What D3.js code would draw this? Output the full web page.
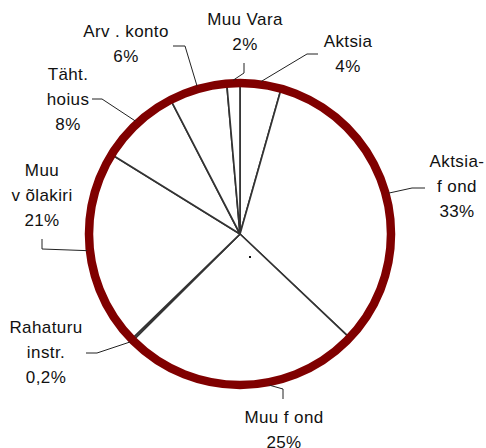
<!DOCTYPE html>
<html><head><meta charset="utf-8">
<script src="https://cdn.jsdelivr.net/npm/d3@7/dist/d3.min.js"></script>
<style>
html,body{margin:0;padding:0;background:#fff;}
text{font-family:"Liberation Sans",Arial,sans-serif;font-size:17px;fill:#111;letter-spacing:0.4px;}
</style></head>
<body><svg id="c" width="486" height="448"></svg>
<script>
// Data (clockwise from 12 o'clock)
const categories = ["Aktsia", "Aktsiafond", "Muu fond", "Rahaturu instr.", "Muu võlakiri", "Täht. hoius", "Arv. konto", "Muu Vara"];
const shares = [4.4, 32.7, 25.5, 0.2, 21.1, 8.6, 6.2, 1.4];
const pctLabels = ["4%", "33%", "25%", "0,2%", "21%", "8%", "6%", "2%"];
const nameLines = [["Aktsia"], ["Aktsia-", "f ond"], ["Muu f ond"], ["Rahaturu", "instr."], ["Muu", "v õlakiri"], ["Täht.", "hoius"], ["Arv . konto"], ["Muu Vara"]];

// Layout for labels (first baseline, center x) and leader elbows
const layout = [
  {x: 348, y: 47, lead: [[307, 54], [318, 54]]},
  {x: 457, y: 167, lead: [[412, 188], [425, 188]]},
  {x: 284, y: 423, lead: [[283, 389], [283, 399]], ang: 169},
  {x: 46, y: 333, lead: [[97, 353], [86, 353]]},
  {x: 42, y: 176, lead: [[42, 249], [42, 239]]},
  {x: 68, y: 80, lead: [[102, 99], [92, 99]]},
  {x: 126, y: 37, lead: [[185, 46], [173, 46]]},
  {x: 245, y: 25, lead: [[244, 73], [244, 63]]}
];

const cx = 240, cy = 234, R = 151;
const svg = d3.select("#c");
const g = svg.append("g").attr("transform", `translate(${cx},${cy})`);

const pie = d3.pie().sort(null).value(d => d).startAngle(0).endAngle(2 * Math.PI);
const arcs = pie(shares);
const arc = d3.arc().innerRadius(0).outerRadius(R);

g.selectAll("path.slice").data(arcs).enter().append("path")
  .attr("class", "slice")
  .attr("d", arc)
  .attr("fill", "#fff")
  .attr("stroke", "#333")
  .attr("stroke-width", 1.7)
  .attr("stroke-linejoin", "round");

g.append("circle").attr("r", R).attr("fill", "none")
  .attr("stroke", "#800000").attr("stroke-width", 8.5);

// small dot
g.append("rect").attr("x", 9).attr("y", 22).attr("width", 2).attr("height", 2).attr("fill", "#111");

// leaders + labels
const lineH = 25;
arcs.forEach((a, i) => {
  const L = layout[i];
  const ang = L.ang !== undefined ? L.ang * Math.PI / 180 : (a.startAngle + a.endAngle) / 2;
  const r0 = R + 3;
  const p0 = [cx + r0 * Math.sin(ang), cy - r0 * Math.cos(ang)];
  const pts = [p0].concat(L.lead);
  svg.append("path")
    .attr("d", d3.line()(pts))
    .attr("fill", "none").attr("stroke", "#222").attr("stroke-width", 1);
  const lines = nameLines[i].concat([pctLabels[i]]);
  const t = svg.append("text").attr("text-anchor", "middle");
  lines.forEach((s, k) => {
    t.append("tspan").attr("x", L.x).attr("y", L.y + k * lineH).text(s);
  });
});
</script></body></html>
